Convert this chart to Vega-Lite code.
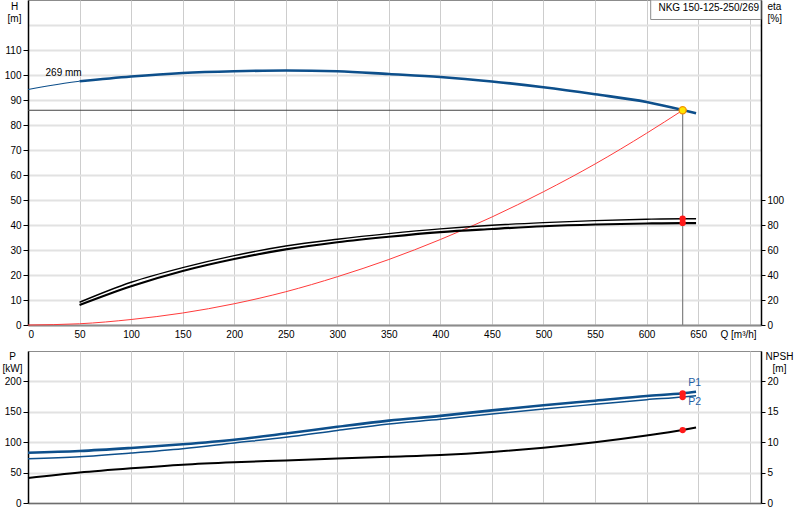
{
  "$schema": "https://vega.github.io/schema/vega-lite/v6.json",
  "padding": {"left": 1, "top": -1, "right": 0, "bottom": 0},
  "background": "white",
  "spacing": 26,
  "bounds": "flush",
  "config": {
    "font": "Liberation Sans",
    "view": {"stroke": "#8c8c8c", "strokeWidth": 1},
    "axis": {
      "labelFont": "Liberation Sans", "labelFontSize": 10, "labelColor": "#000",
      "titleFont": "Liberation Sans", "titleFontSize": 10, "titleFontWeight": "normal", "titleColor": "#000",
      "tickColor": "#000", "domainColor": "#000"
    },
    "text": {"font": "Liberation Sans", "fontSize": 10},
    "line": {"interpolate": "monotone"}
  },
  "datasets": {
    "Hthin": [{"Q":0,"H":94.2},{"Q":25,"H":96.0},{"Q":50,"H":97.5}],
    "Hmain": [{"Q":50,"H":97.5},{"Q":100,"H":99.4},{"Q":150,"H":100.8},{"Q":200,"H":101.5},{"Q":250,"H":101.8},{"Q":300,"H":101.5},{"Q":350,"H":100.4},{"Q":400,"H":99.2},{"Q":450,"H":97.4},{"Q":500,"H":95.1},{"Q":550,"H":92.3},{"Q":600,"H":89.2},{"Q":635,"H":86.0},{"Q":648,"H":84.7}],
    "sys": [{"Q":0,"H":0},{"Q":50,"H":0.5},{"Q":100,"H":2.2},{"Q":150,"H":4.8},{"Q":200,"H":8.5},{"Q":250,"H":13.3},{"Q":300,"H":19.3},{"Q":350,"H":26.2},{"Q":400,"H":34.2},{"Q":450,"H":43.2},{"Q":500,"H":53.3},{"Q":550,"H":64.4},{"Q":600,"H":76.7},{"Q":635,"H":85.9}],
    "hline": [{"Q":0,"Q2":635,"H":85.9}],
    "vline": [{"Q":635,"H":0,"H2":85.9}],
    "op": [{"Q":635,"H":85.9}],
    "label269": [{"Q":17,"H":101,"t":"269 mm"}],
    "box": [{"Q":604,"Q2":711,"H":122.2,"H2":130}],
    "boxText": [{"Q":611.5,"H":127.0,"t":"NKG 150-125-250/269"}],
    "eta1": [{"Q":50,"eta":18.2},{"Q":100,"eta":34.2},{"Q":150,"eta":45.9},{"Q":200,"eta":55.5},{"Q":250,"eta":63.2},{"Q":300,"eta":68.6},{"Q":350,"eta":73.1},{"Q":400,"eta":76.9},{"Q":450,"eta":79.8},{"Q":500,"eta":81.9},{"Q":550,"eta":83.5},{"Q":600,"eta":84.6},{"Q":635,"eta":85.0},{"Q":648,"eta":85.0}],
    "eta2": [{"Q":50,"eta":16.0},{"Q":100,"eta":31.0},{"Q":150,"eta":43.2},{"Q":200,"eta":52.8},{"Q":250,"eta":60.5},{"Q":300,"eta":66.2},{"Q":350,"eta":70.6},{"Q":400,"eta":74.3},{"Q":450,"eta":76.8},{"Q":500,"eta":79.0},{"Q":550,"eta":80.4},{"Q":600,"eta":81.2},{"Q":635,"eta":81.5},{"Q":648,"eta":81.5}],
    "etaDots": [{"Q":635,"eta":85.0},{"Q":635,"eta":81.7}],
    "P1": [{"Q":0,"P":82.7},{"Q":50,"P":85.5},{"Q":100,"P":90.5},{"Q":150,"P":96.5},{"Q":200,"P":104.0},{"Q":250,"P":114.3},{"Q":300,"P":125.3},{"Q":350,"P":135.5},{"Q":400,"P":143.3},{"Q":450,"P":152.4},{"Q":500,"P":160.7},{"Q":550,"P":168.3},{"Q":600,"P":176.0},{"Q":635,"P":180.4},{"Q":648,"P":183.0}],
    "P2": [{"Q":0,"P":72.9},{"Q":50,"P":76.2},{"Q":100,"P":82.2},{"Q":150,"P":89.3},{"Q":200,"P":98.7},{"Q":250,"P":108.0},{"Q":300,"P":119.3},{"Q":350,"P":130.0},{"Q":400,"P":137.7},{"Q":450,"P":146.4},{"Q":500,"P":154.6},{"Q":550,"P":162.3},{"Q":600,"P":169.9},{"Q":635,"P":174.3},{"Q":648,"P":176.5}],
    "Pdots": [{"Q":635,"P":180.4},{"Q":635,"P":174.3}],
    "Plabels": [{"Q":640.5,"P":197.5,"t":"P1"},{"Q":640.5,"P":166.5,"t":"P2"}],
    "npsh": [{"Q":0,"N":4.1},{"Q":50,"N":5.0},{"Q":100,"N":5.7},{"Q":150,"N":6.3},{"Q":200,"N":6.7},{"Q":250,"N":7.0},{"Q":300,"N":7.3},{"Q":350,"N":7.6},{"Q":400,"N":7.9},{"Q":450,"N":8.4},{"Q":500,"N":9.1},{"Q":550,"N":10.0},{"Q":600,"N":11.1},{"Q":635,"N":12.0},{"Q":648,"N":12.4}],
    "npshDot": [{"Q":635,"N":12.0}]
  },
  "vconcat": [
    {
      "width": 733,
      "height": 325,
      "encoding": {
        "x": {
          "field": "Q", "type": "quantitative",
          "scale": {"domain": [0, 711], "nice": false, "zero": false},
          "axis": {
            "orient": "bottom",
            "values": [0,50,100,150,200,250,300,350,400,450,500,550,600,650,700],
            "labelExpr": "datum.value > 650 ? '' : datum.label",
            "ticks": false, "tickSize": 0, "labelPadding": 4,
            "grid": true, "gridColor": "#cdcdcd", "gridWidth": 1,
            "domainColor": "#8c8c8c", "domainWidth": 2,
            "title": "Q [m³/h]", "titleX": 692, "titleY": 4, "titleAlign": "left", "titleBaseline": "top", "titleAngle": 0
          }
        }
      },
      "layer": [
        {
          "encoding": {
            "y": {
              "field": "H", "type": "quantitative",
              "scale": {"domain": [0, 130], "nice": false, "zero": false},
              "axis": {
                "orient": "left",
                "values": [0,10,20,30,40,50,60,70,80,90,100,110,120],
                "labelExpr": "datum.value > 110 ? '' : datum.label",
                "tickOpacity": {"condition": {"test": "datum.value > 110", "value": 0}, "value": 1},
                "tickSize": 5, "labelPadding": 2,
                "grid": true, "gridColor": "#e2e2e2", "gridWidth": 2,
                "domainWidth": 1.5,
                "title": ["H", "[m]"], "titleAngle": 0, "titleX": -14, "titleY": 1,
                "titleAlign": "center", "titleBaseline": "top", "titleLineHeight": 12
              }
            }
          },
          "layer": [
            {"data": {"name": "box"}, "mark": {"type": "rect", "fill": "white", "stroke": "#8c8c8c", "strokeWidth": 1},
             "encoding": {"x2": {"field": "Q2"}, "y2": {"field": "H2"}}},
            {"data": {"name": "boxText"}, "mark": {"type": "text", "align": "left", "baseline": "middle", "fontSize": 10, "color": "#000"},
             "encoding": {"text": {"field": "t"}}},
            {"data": {"name": "hline"}, "mark": {"type": "rule", "color": "#444444", "strokeWidth": 1},
             "encoding": {"x2": {"field": "Q2"}}},
            {"data": {"name": "vline"}, "mark": {"type": "rule", "color": "#808080", "strokeWidth": 1.2},
             "encoding": {"y2": {"field": "H2"}}},
            {"data": {"name": "sys"}, "mark": {"type": "line", "color": "#ff3b3b", "strokeWidth": 1}, "encoding": {}},
            {"data": {"name": "Hthin"}, "mark": {"type": "line", "color": "#0d4f8b", "strokeWidth": 1.2}, "encoding": {}},
            {"data": {"name": "Hmain"}, "mark": {"type": "line", "color": "#0d4f8b", "strokeWidth": 2.6}, "encoding": {}},
            {"data": {"name": "op"}, "mark": {"type": "circle", "fill": "#ffe600", "stroke": "#f39200", "strokeWidth": 1.3, "size": 50, "opacity": 1}, "encoding": {}},
            {"data": {"name": "label269"}, "mark": {"type": "text", "align": "left", "baseline": "middle", "color": "#000"},
             "encoding": {"text": {"field": "t"}}}
          ]
        },
        {
          "encoding": {
            "y": {
              "field": "eta", "type": "quantitative",
              "scale": {"domain": [0, 260], "nice": false, "zero": false},
              "axis": {
                "orient": "right",
                "values": [0,20,40,60,80,100],
                "tickSize": 4, "labelPadding": 2, "grid": false,
                "domainWidth": 1.5,
                "title": ["eta", "[%]"], "titleAngle": 0, "titleX": 6, "titleY": 1,
                "titleAlign": "left", "titleBaseline": "top", "titleLineHeight": 12
              }
            }
          },
          "layer": [
            {"data": {"name": "eta1"}, "mark": {"type": "line", "color": "#000", "strokeWidth": 1.4}, "encoding": {}},
            {"data": {"name": "eta2"}, "mark": {"type": "line", "color": "#000", "strokeWidth": 2.2}, "encoding": {}},
            {"data": {"name": "etaDots"}, "mark": {"type": "circle", "color": "#ff1a1a", "size": 40, "opacity": 1}, "encoding": {}}
          ]
        }
      ],
      "resolve": {"scale": {"y": "independent"}}
    },
    {
      "width": 733,
      "height": 152,
      "encoding": {
        "x": {
          "field": "Q", "type": "quantitative",
          "scale": {"domain": [0, 711], "nice": false, "zero": false},
          "axis": {
            "orient": "bottom",
            "values": [0,50,100,150,200,250,300,350,400,450,500,550,600,650,700],
            "labels": false, "ticks": false, "tickSize": 0,
            "grid": true, "gridColor": "#cdcdcd", "gridWidth": 1,
            "domainColor": "#6e6e6e", "domainWidth": 1.5,
            "title": null
          }
        }
      },
      "layer": [
        {
          "encoding": {
            "y": {
              "field": "P", "type": "quantitative",
              "scale": {"domain": [0, 250], "nice": false, "zero": false},
              "axis": {
                "orient": "left",
                "values": [0,50,100,150,200],
                "tickSize": 5, "labelPadding": 2,
                "grid": true, "gridColor": "#e2e2e2", "gridWidth": 2,
                "domainWidth": 1.5,
                "title": ["P", "[kW]"], "titleAngle": 0, "titleX": -16, "titleY": 0,
                "titleAlign": "center", "titleBaseline": "top", "titleLineHeight": 12
              }
            }
          },
          "layer": [
            {"data": {"name": "P2"}, "mark": {"type": "line", "color": "#0d4f8b", "strokeWidth": 1.5}, "encoding": {}},
            {"data": {"name": "P1"}, "mark": {"type": "line", "color": "#0d4f8b", "strokeWidth": 2.6}, "encoding": {}},
            {"data": {"name": "Pdots"}, "mark": {"type": "circle", "color": "#ff1a1a", "size": 40, "opacity": 1}, "encoding": {}},
            {"data": {"name": "Plabels"}, "mark": {"type": "text", "align": "left", "baseline": "middle", "color": "#1f5fa5", "fontSize": 10.5},
             "encoding": {"text": {"field": "t"}}}
          ]
        },
        {
          "encoding": {
            "y": {
              "field": "N", "type": "quantitative",
              "scale": {"domain": [0, 25], "nice": false, "zero": false},
              "axis": {
                "orient": "right",
                "values": [0,5,10,15,20],
                "tickSize": 4, "labelPadding": 2, "grid": false,
                "domainWidth": 1.5,
                "title": ["NPSH", "[m]"], "titleAngle": 0, "titleX": 18, "titleY": 0,
                "titleAlign": "center", "titleBaseline": "top", "titleLineHeight": 12
              }
            }
          },
          "layer": [
            {"data": {"name": "npsh"}, "mark": {"type": "line", "color": "#000", "strokeWidth": 2}, "encoding": {}},
            {"data": {"name": "npshDot"}, "mark": {"type": "circle", "color": "#ff1a1a", "size": 40, "opacity": 1}, "encoding": {}}
          ]
        }
      ],
      "resolve": {"scale": {"y": "independent"}}
    }
  ]
}
